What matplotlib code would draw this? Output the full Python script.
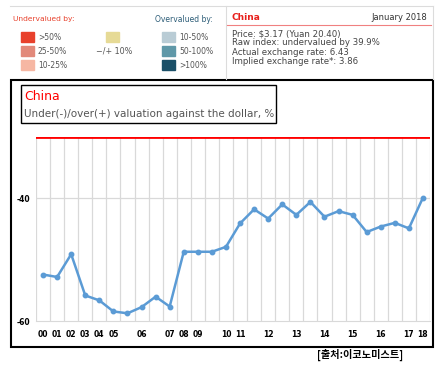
import matplotlib.pyplot as plt
from matplotlib.patches import Rectangle

# Big Mac index, China: valuation against the dollar (%)
years = ['00', '01', '02', '03', '04', '05', '', '06', '', '07', '08', '09', '', '10',
         '11', '', '12', '', '13', '', '14', '', '15', '', '16', '', '17', '18']
valuation = [-52.4, -52.8, -49.1, -55.8, -56.6, -58.4, -58.7, -57.7, -56.0, -57.6,
             -48.7, -48.7, -48.7, -47.9, -44.1, -41.8, -43.3, -41.0, -42.7, -40.6,
             -43.0, -42.1, -42.7, -45.5, -44.6, -44.0, -44.9, -39.9]

under_labels = ['>50%', '25-50%', '10-25%']
under_colors = ['#e8412c', '#e2897a', '#f6b7a3']
over_labels = ['10-50%', '50-100%', '>100%']
over_colors = ['#b9ccd5', '#5f98a8', '#1b5068']
info_lines = ['Price: $3.17 (Yuan 20.40)', 'Raw index: undervalued by 39.9%',
              'Actual exchange rate: 6.43', 'Implied exchange rate*: 3.86']

W, H = 441, 367
fig = plt.figure(figsize=(W / 100, H / 100), dpi=100)

# overlay in pixel coordinates for the header and frames
bg = fig.add_axes([0, 0, 1, 1])
bg.set_xlim(0, W)
bg.set_ylim(H, 0)
bg.axis('off')

# header
bg.plot([10, 433], [6, 6], color='#dcdcdc', lw=0.8)
bg.plot([433, 433], [6, 79], color='#dcdcdc', lw=0.8)
bg.plot([226, 226], [6, 79], color='#dcdcdc', lw=0.8)
bg.text(13, 19, 'Undervalued by:', color='#e8412c', fontsize=5.4, va='center')
bg.text(155, 19, 'Overvalued by:', color='#2d5d78', fontsize=5.5, va='center')
for i, (lab, col) in enumerate(zip(under_labels, under_colors)):
    y = 37 + i * 14
    bg.add_patch(Rectangle((21, y - 5), 13, 10, color=col))
    bg.text(38, y, lab, fontsize=5.5, color='#555555', va='center')
for i, (lab, col) in enumerate(zip(over_labels, over_colors)):
    y = 37 + i * 14
    bg.add_patch(Rectangle((162, y - 5), 13, 10, color=col))
    bg.text(179, y, lab, fontsize=5.5, color='#555555', va='center')
bg.add_patch(Rectangle((106, 32), 13, 10, color='#e6da96'))
bg.text(96, 51, '\u2212/+ 10%', fontsize=5.8, color='#555555', va='center')

bg.text(232, 17, 'China', color='#e8201c', fontsize=6.5, fontweight='bold', va='center')
bg.text(427, 17, 'January 2018', color='#333333', fontsize=6, ha='right', va='center')
bg.plot([227, 431], [25, 25], color='#f08080', lw=0.8)
for i, line in enumerate(info_lines):
    bg.text(232, 33.5 + i * 9.3, line, fontsize=6.2, color='#444444', va='center')

# chart frame and title box
bg.add_patch(Rectangle((10.5, 79.5), 422.5, 267, fill=False, ec='black', lw=1.5))
bg.add_patch(Rectangle((20.5, 85), 255, 37.5, fill=False, ec='black', lw=1))
bg.text(24, 96, 'China', color='red', fontsize=9, va='center')
bg.text(24, 114, 'Under(-)/over(+) valuation against the dollar, %',
        color='#555555', fontsize=7.45, va='center')

bg.text(360, 355, '[출처:이코노미스트]', fontsize=7.3, fontweight='bold',
        family=['Noto Sans CJK KR', 'DejaVu Sans'], ha='center', va='center')

# line chart
ax = fig.add_axes([36 / W, 1 - 321.3 / H, (430 - 36) / W, (321.3 - 136.7) / H])
ax.patch.set_alpha(0)
n = len(valuation)
x = [i + 0.5 for i in range(n)]
ax.set_xlim(0, n)
ax.set_ylim(-60, -30)
for i in range(n + 1):
    ax.axvline(i, color='#d9d9d9', lw=0.9, zorder=0)
ax.axhline(-40, color='#d9d9d9', lw=0.9, zorder=0)
ax.axhline(-30, color='red', lw=2, zorder=3)
ax.plot(x, valuation, color='#5b9bd5', lw=1.8, marker='o', markersize=3.2, zorder=4)

for s in ['top', 'right', 'left']:
    ax.spines[s].set_visible(False)
ax.spines['bottom'].set_color('#d9d9d9')
ax.set_yticks([-60, -40])
ax.set_yticklabels(['-60', '-40'], fontsize=5.5, fontweight='bold')
ax.set_xticks(x)
ax.set_xticklabels(years, fontsize=5.5, fontweight='bold')
ax.tick_params(length=0, pad=6)
ax.tick_params(axis='y', pad=4)

fig.savefig('out.png', dpi=100)
